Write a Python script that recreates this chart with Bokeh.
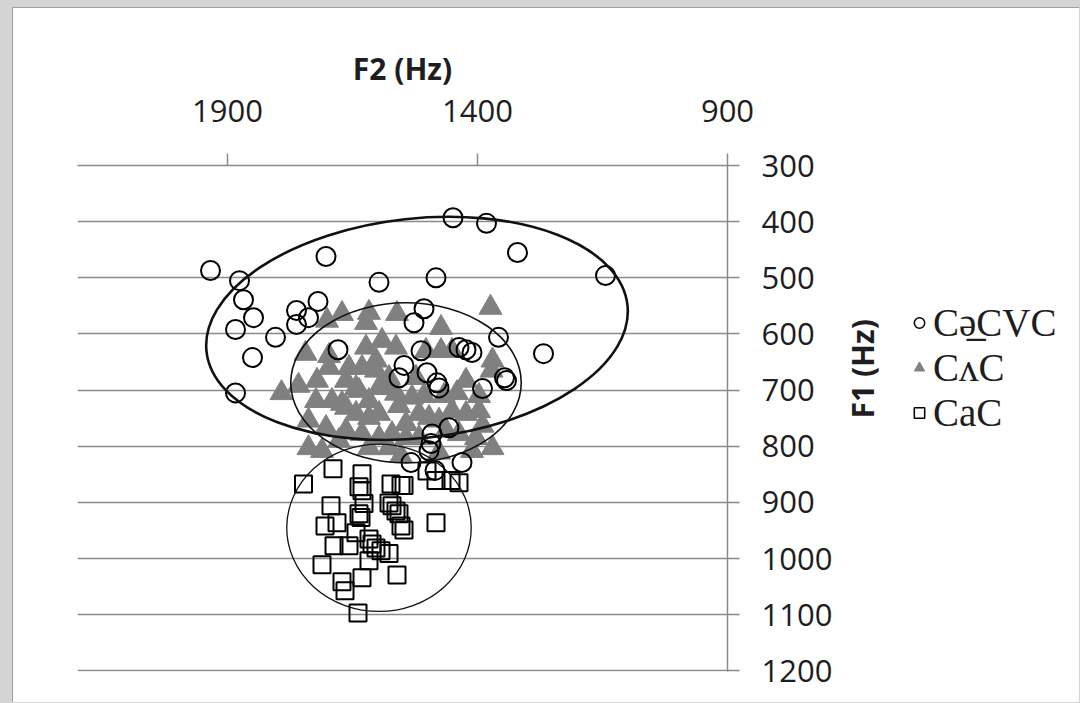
import math
from bokeh.plotting import figure
from bokeh.models import (Range1d, FixedTicker, Legend, LegendItem, ColumnDataSource)
from bokeh.layouts import column, row
from bokeh.embed import file_html
from bokeh.resources import INLINE

# ---- data (F2 Hz, F1 Hz) ----
schwa_f2 = [1934, 1876, 1868, 1848, 1884, 1850, 1884, 1804, 1762, 1738, 1762, 1719, 1703,
            1597, 1679, 1483, 1449, 1382, 1320, 1144, 1507, 1527, 1358, 1268, 1437, 1423,
            1411, 1513, 1501, 1481, 1477, 1346, 1342, 1390, 1547, 1457, 1491, 1493, 1497,
            1533, 1431, 1485, 1557]
schwa_f1 = [487, 505, 539, 571, 592, 642, 705, 606, 558, 571, 583, 542, 462,
            508, 628, 500, 393, 403, 455, 496, 555, 580, 606, 635, 624, 628,
            633, 630, 669, 687, 696, 678, 683, 697, 656, 767, 778, 795, 808,
            829, 829, 843, 678]

wedge_f2 = [1671, 1617, 1561, 1701, 1744, 1792, 1623, 1591, 1563, 1657, 1631, 1603, 1697,
            1723, 1691, 1643, 1663, 1617, 1577, 1623, 1374, 1473, 1697, 1503, 1473, 1451,
            1370, 1423, 1372, 1523, 1531, 1603, 1577, 1663, 1637, 1597, 1563, 1671, 1643,
            1617, 1597, 1738, 1703, 1663, 1738, 1711, 1631, 1597, 1571, 1543, 1517, 1497,
            1477, 1451, 1423, 1397, 1463, 1437, 1403, 1370, 1543, 1517, 1677, 1411, 1617,
            1577, 1557, 1507, 1467, 1441, 1397, 1390, 1758, 1721, 1553, 1477]
wedge_f1 = [564, 562, 564, 576, 635, 705, 624, 612, 624, 660, 660, 647, 660,
            719, 719, 696, 731, 719, 696, 580, 553, 589, 639, 630, 630, 630,
            647, 683, 665, 678, 713, 665, 678, 683, 701, 696, 706, 724, 742,
            749, 742, 754, 767, 772, 803, 808, 778, 785, 778, 760, 742, 749,
            754, 737, 742, 737, 772, 778, 785, 803, 785, 785, 790, 808, 803,
            803, 728, 710, 710, 705, 710, 763, 692, 683, 817, 811]

a_f2 = [1748, 1689, 1631, 1637, 1631, 1627, 1637, 1633, 1693, 1681, 1705, 1687, 1711,
        1657, 1643, 1671, 1665, 1631, 1639, 1617, 1611, 1603, 1593, 1617, 1577, 1561,
        1573, 1553, 1547, 1577, 1571, 1563, 1557, 1553, 1547, 1483, 1501, 1483, 1453, 1437]
a_f1 = [867, 840, 849, 872, 879, 902, 920, 927, 906, 936, 942, 977, 1011,
        977, 954, 1041, 1057, 1034, 1097, 965, 974, 981, 986, 1004, 991, 1029,
        867, 870, 870, 901, 906, 915, 920, 942, 949, 936, 844, 861, 861, 865]

# ellipses: center F2, center F1, width (Hz), height (Hz), angle
ell_x = [1521, 1543, 1597]
ell_y = [590, 687, 945]
ell_w = [847, 461, 369]
ell_h = [391, 285, 298]
ell_angle = [0.11, 0.0, 0.0]

labels = ["C\u0259\u0332CVC", "C\u028cC", "CaC"]
x_ticks = [1900, 1400, 900]
y_ticks = [300, 400, 500, 600, 700, 800, 900, 1000, 1100, 1200]

GRID = "#8a8a8a"
TXT = "#1e1e1e"

p = figure(width=893, height=694,
           x_range=Range1d(2200, 900), y_range=Range1d(1201, 300),
           x_axis_location="above", y_axis_location="right",
           output_backend="svg", toolbar_location=None,
           min_border_left=64, min_border_top=157, min_border_right=179, min_border_bottom=31,
           background_fill_color="white", border_fill_color="white")
p.outline_line_color = None
p.xgrid.visible = False
p.ygrid.ticker = FixedTicker(ticks=y_ticks)
p.ygrid.grid_line_color = GRID
p.ygrid.grid_line_width = 1.5

xa = p.xaxis[0]
xa.ticker = FixedTicker(ticks=x_ticks)
xa.axis_label = "F2 (Hz)"
xa.axis_label_standoff = 8

ya = p.yaxis[0]
ya.ticker = FixedTicker(ticks=y_ticks)
ya.axis_label = "F1 (Hz)"
ya.axis_label_standoff = 27
try:
    ya.axis_label_orientation = math.pi / 2
except Exception:
    pass

for ax in (xa, ya):
    ax.axis_line_color = GRID
    ax.axis_line_width = 1.5
    ax.major_tick_line_color = GRID
    ax.major_tick_line_width = 1.5
    ax.major_tick_out = 12
    ax.major_tick_in = 0
    ax.minor_tick_line_color = None
    ax.major_label_text_font = "Open Sans"
    ax.major_label_text_font_size = "31px"
    ax.major_label_text_color = TXT
    ax.axis_label_text_font = "Open Sans"
    ax.axis_label_text_font_style = "bold"
    ax.axis_label_text_font_size = "30px"
    ax.axis_label_text_color = TXT
xa.major_label_standoff = 32
ya.major_label_standoff = 22

r_tri = p.scatter(wedge_f2, wedge_f1, marker="triangle", size=23,
                  fill_color="#808080", line_color="#808080", line_width=1)
r_circ = p.scatter(schwa_f2, schwa_f1, marker="circle", size=19,
                   fill_alpha=0, line_color="black", line_width=2)
r_sq = p.scatter(a_f2, a_f1, marker="square", size=17,
                 fill_alpha=0, line_color="black", line_width=2)

src = ColumnDataSource(dict(x=ell_x, y=ell_y, w=ell_w, h=ell_h, a=ell_angle,
                            lw=[2.6, 1.6, 1.3]))
p.ellipse(x="x", y="y", width="w", height="h", angle="a", source=src,
          fill_alpha=0, line_color="#111111", line_width="lw")

# ---- legend panel (separate figure to the right) ----
pl = figure(width=173, height=694, x_range=Range1d(0, 1), y_range=Range1d(0, 1),
            output_backend="svg", toolbar_location=None,
            min_border=0, background_fill_color="white", border_fill_color="white")
pl.outline_line_color = None
pl.axis.visible = False
pl.grid.visible = False
# off-range placeholders so that the legend can draw its swatches
l_circ = pl.scatter([-5], [-5], marker="circle", fill_alpha=0, line_color="black", line_width=1.5)
l_tri = pl.scatter([-5], [-5], marker="triangle", fill_color="#808080", line_color="#808080")
l_sq = pl.scatter([-5], [-5], marker="square", fill_alpha=0, line_color="black", line_width=1.5)

legend = Legend(items=[LegendItem(label=labels[0], renderers=[l_circ]),
                       LegendItem(label=labels[1], renderers=[l_tri]),
                       LegendItem(label=labels[2], renderers=[l_sq])],
                location=(0, 236), padding=0, margin=0, spacing=0,
                glyph_width=26, glyph_height=45, label_height=45, label_standoff=1,
                label_text_font="Liberation Serif", label_text_font_size="39px",
                label_text_color=TXT, border_line_alpha=0, background_fill_alpha=0)
pl.add_layout(legend, "center")

inner = row(p, pl, styles={"background-color": "white",
                           "border-left": "1px solid #a0a0a0",
                           "border-top": "1px solid #a0a0a0"})
page = column(inner, styles={"background-color": "#d4d4d4", "padding-left": "12px",
                             "padding-top": "7px", "width": "1080px", "height": "703px",
                             "overflow": "hidden", "box-sizing": "border-box"})

open("out.html", "w").write(file_html(page, INLINE))
